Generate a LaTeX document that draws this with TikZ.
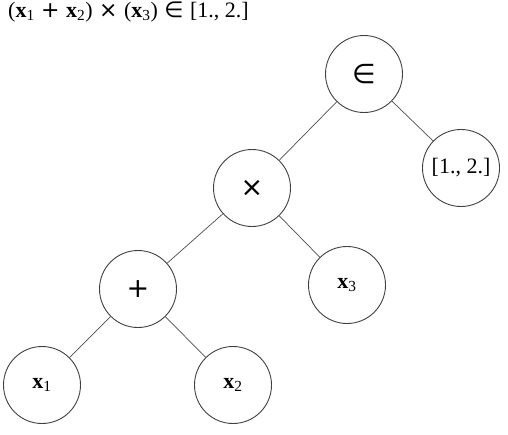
\documentclass[tikz,border=0pt]{standalone}
\usepackage{fontspec}
\setmainfont{Liberation Serif}
\newfontfamily\symfont{DejaVu Sans}
\newcommand{\opsp}[1]{\hspace{6.5pt}{\symfont #1}\hspace{6.5pt}}
\begin{document}
\begin{tikzpicture}[x=1pt,y=-1pt,
  tnode/.style={circle,draw=black!75,line width=0.9pt,minimum size=77pt,inner sep=0pt,font=\fontsize{22}{22}\selectfont},
  opnode/.style={tnode,font=\symfont\fontsize{27}{27}\selectfont},
  edge/.style={draw=black!70,line width=0.7pt}]
\useasboundingbox (0,0) rectangle (508,434);
\node[anchor=base west,inner sep=0pt,font=\fontsize{22}{22}\selectfont] (title) at (8,17)
  {(\textbf{x}\textsubscript{1}\opsp{+}\textbf{x}\textsubscript{2})\opsp{×}(\textbf{x}\textsubscript{3})\opsp{∈}[1., 2.]};
\node[opnode] (in) at (364,74) {∈};
\node[tnode] (int) at (461,168) {[1., 2.]};
\node[opnode] (times) at (252,188) {×};
\node[tnode] (x3) at (347,285) {\textbf{x}\textsubscript{3}};
\node[opnode] (plus) at (138,289) {+};
\node[tnode] (x1) at (42,385) {\textbf{x}\textsubscript{1}};
\node[tnode] (x2) at (233,385) {\textbf{x}\textsubscript{2}};
\draw[edge] (in) -- (times);
\draw[edge] (in) -- (int);
\draw[edge] (times) -- (plus);
\draw[edge] (times) -- (x3);
\draw[edge] (plus) -- (x1);
\draw[edge] (plus) -- (x2);
\end{tikzpicture}
\end{document}
